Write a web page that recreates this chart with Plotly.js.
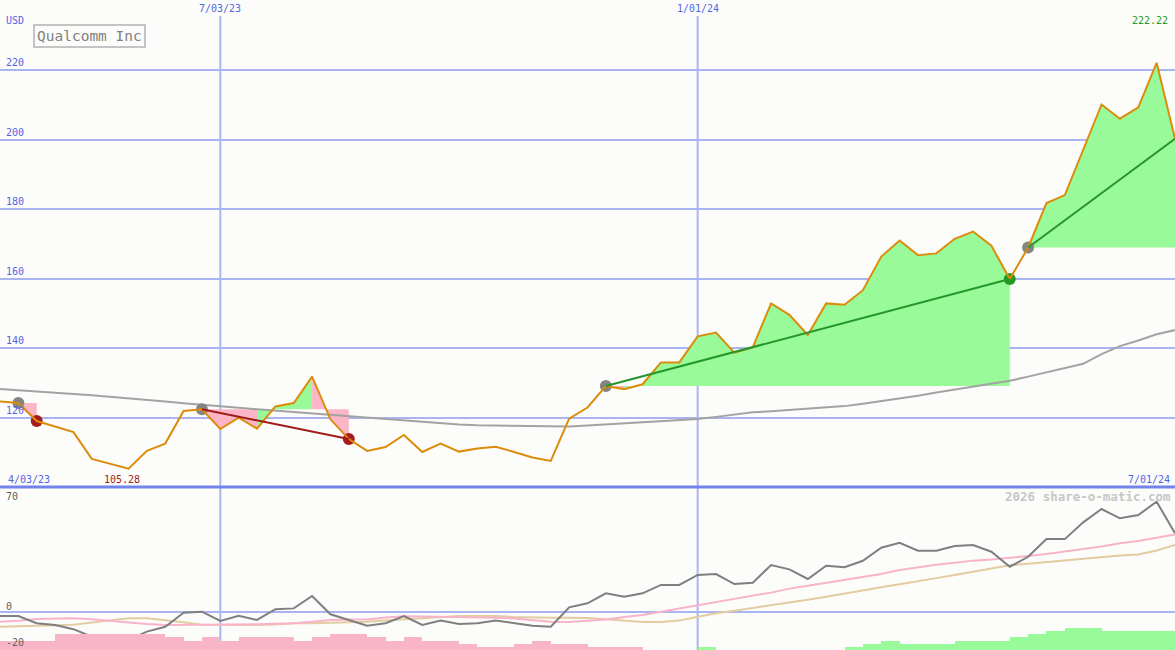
<!DOCTYPE html>
<html>
<head>
<meta charset="utf-8">
<script src="https://cdn.plot.ly/plotly-3.0.1.min.js"></script>
<style>
html,body{margin:0;padding:0;background:#fcfdfa;}
#chart{width:1175px;height:650px;}
</style>
</head>
<body>
<div id="chart"></div>
<script>
// ---------------- data ----------------
const DATES = ['2023-04-10','2023-04-17','2023-04-24','2023-05-01','2023-05-08','2023-05-15','2023-05-22','2023-05-29','2023-06-05','2023-06-12',
 '2023-06-19','2023-06-26','2023-07-03','2023-07-10','2023-07-17','2023-07-24','2023-07-31','2023-08-07','2023-08-14','2023-08-21',
 '2023-08-28','2023-09-04','2023-09-11','2023-09-18','2023-09-25','2023-10-02','2023-10-09','2023-10-16','2023-10-23','2023-10-30',
 '2023-11-06','2023-11-13','2023-11-20','2023-11-27','2023-12-04','2023-12-11','2023-12-18','2023-12-25','2024-01-01','2024-01-08',
 '2024-01-15','2024-01-22','2024-01-29','2024-02-05','2024-02-12','2024-02-19','2024-02-26','2024-03-04','2024-03-11','2024-03-18',
 '2024-03-25','2024-04-01','2024-04-08','2024-04-15','2024-04-22','2024-04-29','2024-05-06','2024-05-13','2024-05-20','2024-05-27',
 '2024-06-03','2024-06-10','2024-06-17','2024-06-24','2024-07-01'];

const PRICE = [124.6,124.2,119.0,117.4,115.8,108.1,106.6,105.28,110.4,112.5,
 121.9,122.4,116.7,120.0,116.8,123.2,124.2,131.8,119.5,113.8,
 110.4,111.5,115.0,110.1,112.5,110.2,111.1,111.6,110.1,108.5,
 107.5,119.7,122.9,129.1,128.2,129.6,135.9,135.9,143.4,144.5,
 138.7,140.2,152.9,149.6,143.8,152.9,152.5,156.7,166.4,171.0,
 166.8,167.3,171.5,173.6,169.5,159.9,169.0,181.8,184.1,197.0,
 210.2,206.1,209.4,222.22,200.3];

const MA_LONG = [128.2,127.9,127.6,127.2,126.8,126.4,126.0,125.5,125.0,124.6,
 124.1,123.6,123.2,122.8,122.4,122.0,121.5,121.1,120.6,120.2,
 119.8,119.4,119.0,118.6,118.3,118.0,117.8,117.7,117.6,117.4,
 117.3,117.4,117.7,118.0,118.3,118.6,118.9,119.2,119.6,120.2,
 120.9,121.5,121.8,122.2,122.5,122.9,123.3,124.0,124.7,125.5,
 126.3,127.2,128.0,128.9,129.7,130.6,131.8,133.0,134.2,135.5,
 138.3,140.6,142.2,144.0,145.2];

// lower panel
const OSC = [-2.5,-2.5,-6.6,-7.6,-10.0,-14.3,-15.4,-16.2,-11.4,-8.6,
 -0.6,0.0,-5.3,-2.3,-4.7,1.4,1.9,9.0,-1.5,-4.7,
 -8.0,-6.6,-2.5,-7.6,-5.1,-7.0,-6.6,-5.1,-6.6,-8.0,
 -8.6,2.5,4.8,10.5,8.6,10.5,15.3,15.3,21.0,21.5,
 15.8,16.6,26.7,24.2,18.7,26.3,25.4,29.1,36.6,39.4,
 34.9,34.9,37.5,38.1,34.3,25.7,31.4,41.5,41.5,51.1,
 58.7,53.4,55.3,62.9,44.8];

const OSC_FAST = [-5.7,-5.2,-4.2,-3.8,-3.8,-4.3,-5.3,-6.3,-7.0,-7.6,
 -7.6,-7.6,-7.6,-7.4,-7.2,-6.9,-6.6,-5.8,-4.7,-4.5,
 -4.4,-3.3,-2.6,-2.8,-2.9,-3.0,-3.2,-3.4,-3.9,-4.9,
 -5.7,-5.9,-5.4,-4.5,-3.0,-1.9,0.0,1.9,3.7,5.7,
 7.7,9.2,10.9,13.2,14.9,16.5,18.2,19.7,21.6,23.8,
 25.4,26.8,28.0,29.2,29.9,30.7,31.8,33.0,34.3,35.8,
 37.3,39.1,40.4,42.3,44.2];

const OSC_SLOW = [-8.6,-8.3,-7.8,-7.6,-7.4,-6.2,-5.0,-3.8,-3.8,-4.7,
 -6.0,-7.4,-7.6,-7.6,-7.6,-7.3,-6.6,-6.6,-6.4,-6.2,
 -5.8,-5.0,-4.3,-3.6,-2.8,-2.5,-2.5,-2.5,-3.0,-3.3,
 -3.4,-3.4,-3.6,-4.3,-5.0,-5.9,-5.9,-5.1,-2.9,-0.9,
 0.6,2.1,3.4,4.9,6.8,8.6,10.5,12.3,14.0,15.7,
 17.3,19.2,21.0,22.9,24.5,26.5,27.4,28.4,29.5,30.4,
 31.2,32.1,32.7,35.0,38.1];

// signed strength bars (bar k covers the week ending at DATES[k])
const BAR_LEVEL = [0,-3,-3,-3,-5,-5,-5,-5,-5,-5,
 -4,-3,-4,-3,-4,-4,-4,-3,-4,-5,
 -5,-4,-3,-4,-3,-3,-2,-1,-1,-2,
 -3,-2,-2,-1,-1,-1,0,0,0,1,
 0,0,0,0,0,0,0,1,2,3,
 2,2,2,3,3,3,4,5,6,7,
 7,6,6,6,6];

// trades (indices into DATES)
const TRADE_START = [1, 11, 33, 56];
const TRADE_END   = [2, 19, 55, 64];
const TRADE_OPEN  = [false, false, false, true];

const Y_TICKS = [120, 140, 160, 180, 200, 220];
const X_TICKS = ['2023-07-03', '2024-01-01'];
const X_TICK_TEXT = ['7/03/23', '1/01/24'];
const PERIOD_TEXT = ['4/03/23', '7/01/24'];
const LOWER_LABELS = ['70', '0', '-20'];
const TITLE = 'Qualcomm Inc';
const CURRENCY = 'USD';
const WATERMARK = '2026 share-o-matic.com';

// ---------------- styling ----------------
const W = 1175, H = 650;
const SPLIT = 487;               // px from top where lower panel starts
const FONT = 'DejaVu Sans Mono, Liberation Mono, monospace';
const BLUE = '#5264e6';
const GRID = '#a9b5f1';
const GREEN_FILL = '#98fa98';
const PINK_FILL = '#fab6c6';
const px = x => x / W;
const py = y => 1 - y / H;

const traces = [];

// fill polygons for each trade, per weekly segment
const greenX = [], greenY = [], pinkX = [], pinkY = [];
for (let t = 0; t < TRADE_START.length; t++) {
  const s = TRADE_START[t], e = TRADE_END[t], level = PRICE[s];
  for (let i = s; i < e; i++) {
    const gx = PRICE[i + 1] >= level ? greenX : pinkX;
    const gy = PRICE[i + 1] >= level ? greenY : pinkY;
    gx.push(DATES[i], DATES[i], DATES[i + 1], DATES[i + 1], DATES[i], null);
    gy.push(level, PRICE[i], PRICE[i + 1], level, level, null);
  }
}
traces.push({x: greenX, y: greenY, type: 'scatter', mode: 'lines', fill: 'toself',
  fillcolor: GREEN_FILL, line: {width: 0, color: GREEN_FILL}, hoverinfo: 'skip', xaxis: 'x', yaxis: 'y'});
traces.push({x: pinkX, y: pinkY, type: 'scatter', mode: 'lines', fill: 'toself',
  fillcolor: PINK_FILL, line: {width: 0, color: PINK_FILL}, hoverinfo: 'skip', xaxis: 'x', yaxis: 'y'});

// long moving average
traces.push({x: DATES, y: MA_LONG, type: 'scatter', mode: 'lines',
  line: {color: '#a3a3a3', width: 2}, hoverinfo: 'skip', xaxis: 'x', yaxis: 'y'});

// entry / exit dots (under price line)
const dotX = [], dotY = [], dotC = [];
for (let t = 0; t < TRADE_START.length; t++) {
  const s = TRADE_START[t], e = TRADE_END[t];
  dotX.push(DATES[s]); dotY.push(PRICE[s]); dotC.push('#848484');
  if (!TRADE_OPEN[t]) {
    dotX.push(DATES[e]); dotY.push(PRICE[e]);
    dotC.push(PRICE[e] >= PRICE[s] ? '#229a22' : '#a41c1c');
  }
}
traces.push({x: dotX, y: dotY, type: 'scatter', mode: 'markers',
  marker: {size: 12, color: dotC, line: {width: 0}}, hoverinfo: 'skip', xaxis: 'x', yaxis: 'y'});

// price line
traces.push({x: DATES, y: PRICE, type: 'scatter', mode: 'lines',
  line: {color: '#dc8c0a', width: 2}, hoverinfo: 'skip', xaxis: 'x', yaxis: 'y'});

// trade lines
for (let t = 0; t < TRADE_START.length; t++) {
  const s = TRADE_START[t], e = TRADE_END[t];
  if (e - s < 2) continue;
  traces.push({x: [DATES[s], DATES[e]], y: [PRICE[s], PRICE[e]], type: 'scatter', mode: 'lines',
    line: {color: PRICE[e] >= PRICE[s] ? '#24962a' : '#a01a1a', width: 2}, hoverinfo: 'skip', xaxis: 'x', yaxis: 'y'});
}

// lower panel bars
const WEEK = 7 * 86400000;
traces.push({x: DATES, y: BAR_LEVEL.map(Math.abs), type: 'bar',
  marker: {color: BAR_LEVEL.map(v => v >= 0 ? GREEN_FILL : '#f9b5c8'), line: {width: 0}},
  width: WEEK, offset: -WEEK, hoverinfo: 'skip', xaxis: 'x', yaxis: 'y3'});

// lower panel lines
traces.push({x: DATES, y: OSC_SLOW, type: 'scatter', mode: 'lines',
  line: {color: '#e2cca0', width: 2}, hoverinfo: 'skip', xaxis: 'x', yaxis: 'y2'});
traces.push({x: DATES, y: OSC_FAST, type: 'scatter', mode: 'lines',
  line: {color: '#f9b3c9', width: 2}, hoverinfo: 'skip', xaxis: 'x', yaxis: 'y2'});
traces.push({x: DATES, y: OSC, type: 'scatter', mode: 'lines',
  line: {color: '#7f7f7f', width: 2}, hoverinfo: 'skip', xaxis: 'x', yaxis: 'y2'});

// ---------------- annotations ----------------
const lbl = (text, x, y, xanchor, color, size, extra) => Object.assign({
  text: text, x: px(x), y: py(y), xref: 'paper', yref: 'paper', xanchor: xanchor, yanchor: 'middle',
  showarrow: false, font: {family: FONT, size: size || 10, color: color || BLUE}, borderpad: 0
}, extra || {});

const annotations = [];
annotations.push(lbl(CURRENCY, 5, 20, 'left'));
Y_TICKS.forEach(v => annotations.push({text: String(v), x: px(5), xref: 'paper', y: v, yref: 'y',
  xanchor: 'left', yanchor: 'bottom', yshift: 1, showarrow: false, borderpad: 0,
  font: {family: FONT, size: 10, color: BLUE}}));
X_TICKS.forEach((d, i) => annotations.push({text: X_TICK_TEXT[i], x: d, xref: 'x', y: py(8), yref: 'paper',
  xanchor: 'center', yanchor: 'middle', showarrow: false, borderpad: 0,
  font: {family: FONT, size: 10, color: BLUE}}));
annotations.push(lbl(PERIOD_TEXT[0], 7, 479, 'left'));
annotations.push(lbl(PERIOD_TEXT[1], 1171, 479, 'right'));
const minV = Math.min(...PRICE), maxV = Math.max(...PRICE);
annotations.push(lbl(minV.toFixed(2), 103, 479, 'left', '#a41c1c'));
annotations.push(lbl(maxV.toFixed(2), 1169, 21, 'right', '#229a22'));
annotations.push(lbl(TITLE, 33, 36.5, 'left', '#808080', 14.5,
  {bordercolor: '#c4c4c4', borderwidth: 2, borderpad: 2}));
annotations.push(lbl(WATERMARK, 1172, 496, 'right', '#c6c6c6', 12.5,
  {font: {family: FONT, size: 12.5, color: '#c6c6c6', weight: 'bold'}}));
annotations.push(lbl(LOWER_LABELS[0], 5, 496, 'left', '#606060'));
annotations.push(lbl(LOWER_LABELS[1], 5, 606, 'left', '#606060'));
annotations.push(lbl(LOWER_LABELS[2], 5, 642, 'left', '#606060'));

// ---------------- shapes ----------------
const shapes = [];
X_TICKS.forEach(d => shapes.push({type: 'line', xref: 'x', yref: 'paper', x0: d, x1: d,
  y0: 0, y1: py(16), line: {color: GRID, width: 2}, layer: 'below'}));
shapes.push({type: 'line', xref: 'paper', yref: 'paper', x0: 0, x1: 1, y0: py(SPLIT), y1: py(SPLIT),
  line: {color: '#7283ec', width: 3}, layer: 'above'});

const split = py(SPLIT);
const layout = {
  width: W, height: H,
  margin: {l: 0, r: 0, t: 0, b: 0, pad: 0},
  paper_bgcolor: '#fcfdfa', plot_bgcolor: '#fcfdfa',
  showlegend: false, barmode: 'overlay', bargap: 0,
  xaxis: {type: 'date', range: [DATES[0], DATES[DATES.length - 1]], showgrid: false, zeroline: false,
    showticklabels: false, showline: false, ticks: '', fixedrange: true},
  yaxis: {domain: [split, 1], range: [100, 240.3], tickvals: Y_TICKS, showgrid: true, gridcolor: GRID,
    gridwidth: 2, zeroline: false, showticklabels: false, ticks: '', showline: false, fixedrange: true},
  yaxis2: {domain: [0, split], range: [-21.9, 71.3], tickvals: [0], showgrid: true, gridcolor: GRID,
    gridwidth: 2, zeroline: false, showticklabels: false, ticks: '', showline: false, fixedrange: true},
  yaxis3: {overlaying: 'y2', range: [0, 51.9], visible: false, showgrid: false, zeroline: false, fixedrange: true},
  annotations: annotations,
  shapes: shapes,
  font: {family: FONT}
};

Plotly.newPlot('chart', traces, layout, {displayModeBar: false, staticPlot: true});
</script>
</body>
</html>
